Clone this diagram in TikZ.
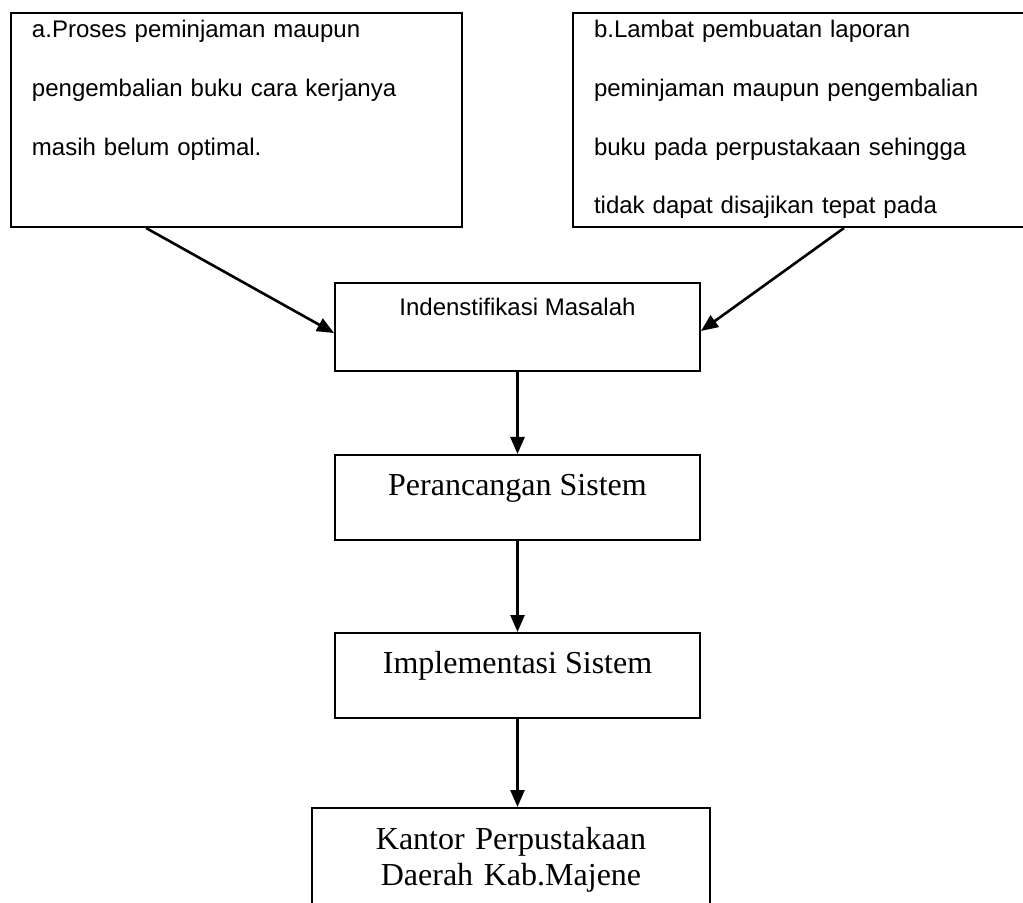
\documentclass[tikz,border=0pt]{standalone}
\usepackage{fontspec}
\setmainfont{Liberation Serif}
\setsansfont{Liberation Sans}
\usepackage{tikz}
\usetikzlibrary{arrows.meta, positioning}

\begin{document}
\begin{tikzpicture}[
    x=1pt, y=1pt,
    problem/.style={rectangle, draw, line width=1pt, align=left, anchor=north west, inner xsep=10.5pt, inner ysep=0pt, text height=12.5pt, text depth=94.5pt, font=\sffamily\fontsize{12pt}{29.3pt}\selectfont},
    process/.style={rectangle, draw, line width=1pt, minimum width=182.5pt, inner ysep=0pt, text height=20pt, text depth=22.5pt, font=\fontsize{16pt}{18pt}\selectfont},
    arrow/.style={-{Triangle[length=8.5pt,width=7pt]}, line width=1.3pt}
]
    \useasboundingbox (0,0) rectangle (511.5,-451.5);

    \node[problem, text width=204.5pt] (masalahA) at (5,-6) {a.Proses peminjaman maupun\\pengembalian buku cara kerjanya\\masih belum optimal.};
    \node[problem, text width=206pt] (masalahB) at (286,-6) {b.Lambat pembuatan laporan\\peminjaman maupun pengembalian\\buku pada perpustakaan sehingga\\tidak dapat disajikan tepat pada};
    \node[process, anchor=north, text height=16.5pt, text depth=27.5pt, font=\sffamily\fontsize{12pt}{14pt}\selectfont] (identifikasi) at (258.75,-141) {Indenstifikasi Masalah};
    \node[process, below=41pt of identifikasi] (perancangan) {Perancangan Sistem};
    \node[process, below=45.5pt of perancangan] (implementasi) {Implementasi Sistem};
    \node[process, below=44pt of implementasi, xshift=-3.25pt, text width=199pt, inner xsep=0pt, align=center, text height=20.5pt, text depth=40pt] (kantor) {Kantor Perpustakaan\\Daerah Kab.Majene};

    % Problem arrows
    \draw[arrow] ([xshift=68pt]masalahA.south west) -- ([yshift=-3pt]identifikasi.west);
    \draw[arrow] ([xshift=136pt]masalahB.south west) -- ([yshift=-2pt]identifikasi.east);

    % Main flow arrows
    \draw[arrow] (identifikasi) -- (perancangan);
    \draw[arrow] (perancangan) -- (implementasi);
    \draw[arrow] (implementasi.south) -- (implementasi.south |- kantor.north);
\end{tikzpicture}
\end{document}
